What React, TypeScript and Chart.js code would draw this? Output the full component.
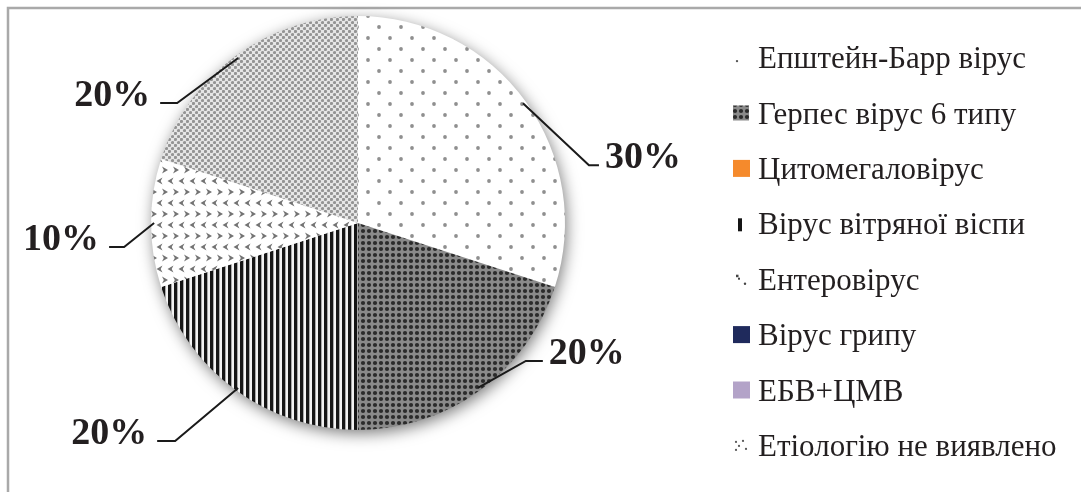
import React, { useEffect, useRef } from "react";
import { Chart, registerables } from "chart.js";

Chart.register(...registerables);

const categories = [
  "Епштейн-Барр вірус",
  "Герпес вірус 6 типу",
  "Цитомегаловірус",
  "Вірус вітряної віспи",
  "Ентеровірус",
  "Вірус грипу",
  "ЕБВ+ЦМВ",
  "Етіологію не виявлено",
];
const shares = [30, 20, 0, 20, 10, 0, 0, 20];
const shareLabels = ["30%", "20%", "", "20%", "10%", "", "", "20%"];

// leader line layout per slice: [elbow dx, elbow dy, horizontal length]
const LEADERS: Record<number, [number, number, number]> = {
  0: [66, 62, 10],
  1: [48, -27, 17],
  3: [-63, 53, 18],
  4: [-30, 24, 15],
  7: [-61, 45, 17],
};

function tile(w: number, h: number, draw: (c: CanvasRenderingContext2D) => void) {
  const cv = document.createElement("canvas");
  cv.width = w;
  cv.height = h;
  const c = cv.getContext("2d")!;
  draw(c);
  return cv;
}

function makeFills(ctx: CanvasRenderingContext2D) {
  const dot = (c: CanvasRenderingContext2D, x: number, y: number, r: number, col: string) => {
    c.fillStyle = col;
    c.beginPath();
    c.arc(x, y, r, 0, Math.PI * 2);
    c.fill();
  };
  const eb = tile(22, 22, (c) => {
    c.fillStyle = "#ffffff";
    c.fillRect(0, 0, 22, 22);
    dot(c, 5, 5, 1.9, "#8f8f8f");
    dot(c, 16, 16, 1.9, "#8f8f8f");
  });
  const herpes = tile(6, 6, (c) => {
    c.fillStyle = "#8a8a8a";
    c.fillRect(0, 0, 6, 6);
    dot(c, 3, 3, 2.1, "#2b2b2b");
  });
  const stripes = tile(6, 6, (c) => {
    c.fillStyle = "#f2f2f2";
    c.fillRect(0, 0, 6, 6);
    c.fillStyle = "#151515";
    c.fillRect(0, 0, 3, 6);
    c.fillStyle = "#777777";
    c.fillRect(3, 0, 0.6, 6);
  });
  const entero = tile(11, 22, (c) => {
    c.fillStyle = "#ffffff";
    c.fillRect(0, 0, 11, 22);
    c.fillStyle = "#737373";
    const chev = (x: number, y: number, dir: number) => {
      c.beginPath();
      c.moveTo(x + 3 * dir, y - 3.5);
      c.lineTo(x - 3 * dir, y);
      c.lineTo(x + 3 * dir, y + 3.5);
      c.lineTo(x + 1.2 * dir, y);
      c.closePath();
      c.fill();
    };
    chev(5.5, 5, 1);
    chev(0, 16, -1);
    chev(11, 16, -1);
  });
  const unknown = tile(6, 6, (c) => {
    c.fillStyle = "#e6e6e6";
    c.fillRect(0, 0, 6, 6);
    dot(c, 1.5, 1.5, 1.6, "#949494");
    dot(c, 4.5, 4.5, 1.6, "#949494");
  });
  return [
    ctx.createPattern(eb, "repeat")!,
    ctx.createPattern(herpes, "repeat")!,
    "#f58a2c",
    ctx.createPattern(stripes, "repeat")!,
    ctx.createPattern(entero, "repeat")!,
    "#1f2a5c",
    "#b3a3c8",
    ctx.createPattern(unknown, "repeat")!,
  ];
}

// legend swatch drawing (small samples of each fill)
function drawSwatch(c: CanvasRenderingContext2D, i: number, x: number, y: number, fill: any) {
  const dot = (px: number, py: number, r: number) => {
    c.beginPath();
    c.arc(px, py, r, 0, Math.PI * 2);
    c.fill();
  };
  c.save();
  if (i === 0) {
    c.fillStyle = "#555";
    dot(x + 4, y + 12, 1.2);
  } else if (i === 3) {
    c.fillStyle = "#151515";
    c.fillRect(x + 5, y + 3, 4, 13);
  } else if (i === 4) {
    c.fillStyle = "#444";
    c.fillRect(x + 3, y + 4, 2.5, 2.5);
    c.fillRect(x + 5, y + 7, 2, 2);
    dot(x + 12, y + 13, 1.2);
  } else if (i === 7) {
    c.fillStyle = "#555";
    dot(x + 3, y + 5, 1.1);
    dot(x + 10, y + 4, 1.1);
    dot(x + 6, y + 9, 1.1);
    dot(x + 3, y + 13, 1.1);
    dot(x + 13, y + 12, 1.1);
  } else if (i === 1) {
    c.fillStyle = fill;
    c.fillRect(x, y + 1, 16, 15);
  } else {
    c.fillStyle = fill;
    c.fillRect(x, y, 17, 17);
  }
  c.restore();
}

export default function App() {
  const ref = useRef<HTMLCanvasElement>(null);

  useEffect(() => {
    const canvas = ref.current!;
    const ctx = canvas.getContext("2d")!;
    const fills = makeFills(ctx);

    const framePlugin = {
      id: "frame",
      beforeDraw(chart: any) {
        const c = chart.ctx;
        c.save();
        c.fillStyle = "#ffffff";
        c.fillRect(0, 0, chart.width, chart.height);
        c.strokeStyle = "#a9a9a9";
        c.lineWidth = 2.5;
        c.beginPath();
        c.moveTo(8, chart.height);
        c.lineTo(8, 8);
        c.lineTo(chart.width, 8);
        c.stroke();
        c.restore();
      },
      beforeDatasetsDraw(chart: any) {
        const arc = chart.getDatasetMeta(0).data[0];
        if (!arc) return;
        const c = chart.ctx;
        c.save();
        c.shadowColor = "rgba(0,0,0,0.55)";
        c.shadowBlur = 16;
        c.shadowOffsetX = 2;
        c.shadowOffsetY = 4;
        c.fillStyle = "#ffffff";
        c.beginPath();
        c.arc(arc.x, arc.y, arc.outerRadius - 1, 0, Math.PI * 2);
        c.fill();
        c.restore();
      },
      afterDatasetsDraw(chart: any) {
        const c = chart.ctx;
        const meta = chart.getDatasetMeta(0);
        c.save();
        c.strokeStyle = "#1a1a1a";
        c.lineWidth = 2;
        c.fillStyle = "#231f20";
        c.font = "bold 38px 'Liberation Serif', 'Times New Roman', serif";
        c.textBaseline = "alphabetic";
        meta.data.forEach((arc: any, i: number) => {
          if (!shares[i]) return;
          const lay = LEADERS[i];
          if (!lay) return;
          const mid = (arc.startAngle + arc.endAngle) / 2;
          const r = arc.outerRadius * 0.985;
          const sx = arc.x + Math.cos(mid) * r;
          const sy = arc.y + Math.sin(mid) * r;
          const ex = sx + lay[0];
          const ey = sy + lay[1];
          const dir = lay[0] >= 0 ? 1 : -1;
          const hx = ex + dir * lay[2];
          c.beginPath();
          c.moveTo(sx, sy);
          c.lineTo(ex, ey);
          c.lineTo(hx, ey);
          c.stroke();
          c.textAlign = dir > 0 ? "left" : "right";
          c.fillText(shareLabels[i], hx + dir * (dir > 0 ? 6 : 10), ey + 3);
        });
        c.restore();
      },
      afterDraw(chart: any) {
        const c = chart.ctx;
        c.save();
        c.font = "31px 'Liberation Serif', 'Times New Roman', serif";
        c.textAlign = "left";
        c.textBaseline = "alphabetic";
        categories.forEach((name, i) => {
          const cy = 57.6 + i * 55.4;
          drawSwatch(c, i, 733, cy - 8.5, fills[i]);
          c.fillStyle = "#231f20";
          c.fillText(name, 758, cy + 10.5);
        });
        c.restore();
      },
    };

    const chart = new Chart(canvas, {
      type: "pie",
      data: {
        labels: categories,
        datasets: [
          {
            data: shares,
            backgroundColor: fills as any,
            borderWidth: 0,
          },
        ],
      },
      options: {
        responsive: false,
        animation: false,
        events: [],
        layout: { padding: { left: 150, right: 515, top: 16, bottom: 62 } },
        plugins: {
          legend: { display: false },
          tooltip: { enabled: false },
        },
      },
      plugins: [framePlugin],
    });
    return () => chart.destroy();
  }, []);

  return (
    <div style={{ position: "fixed", left: 0, top: 0, width: 1081, height: 492, background: "#fff" }}>
      <canvas ref={ref} width={1081} height={492} style={{ display: "block", width: 1081, height: 492 }} />
    </div>
  );
}
